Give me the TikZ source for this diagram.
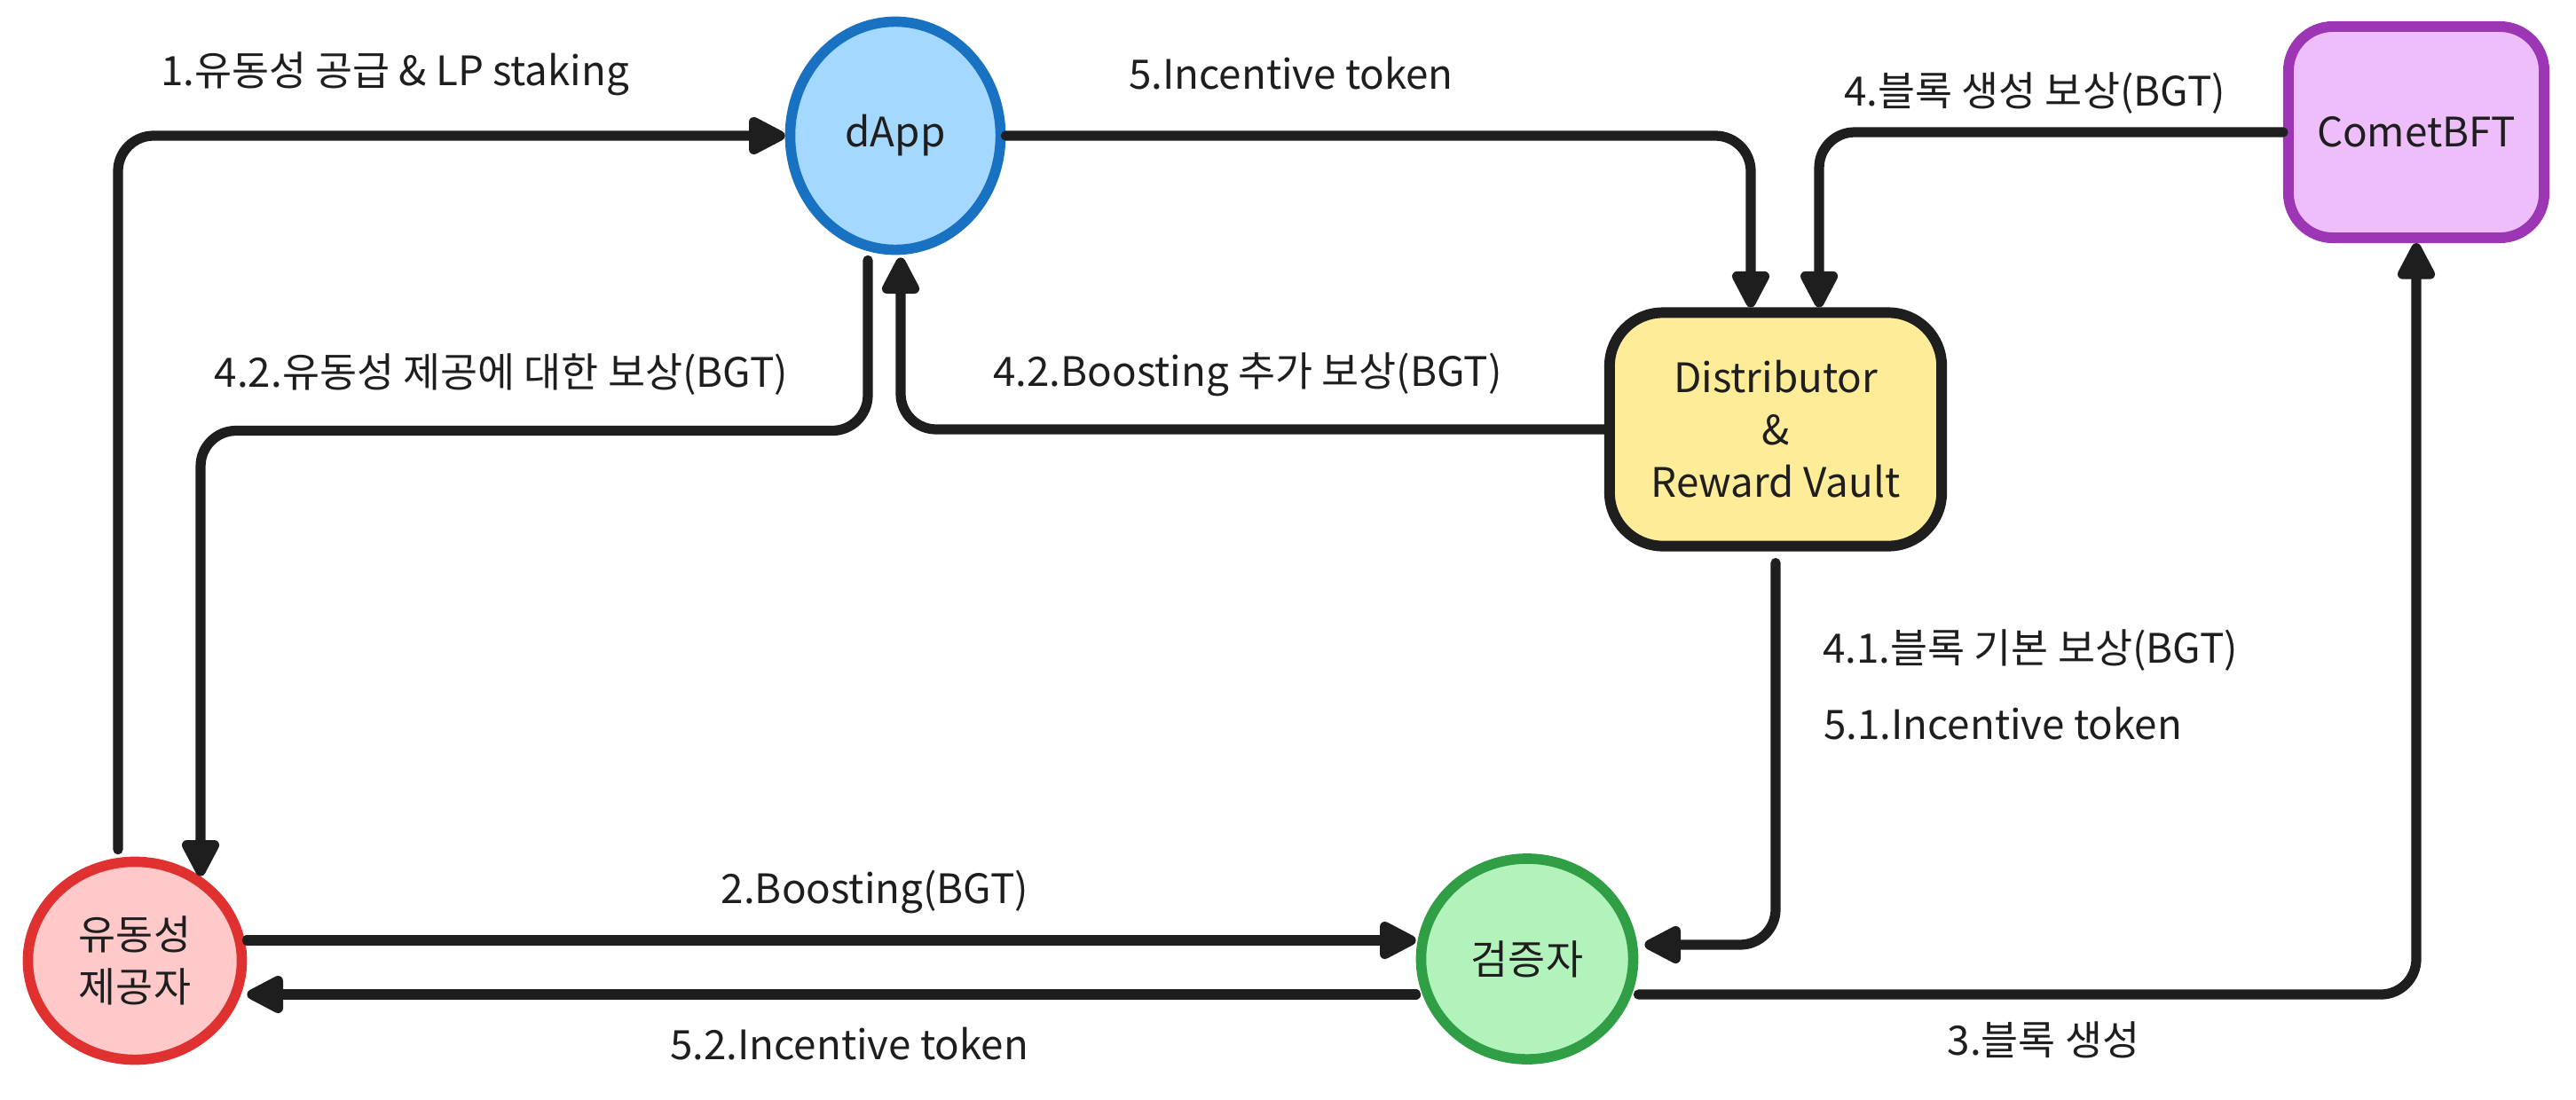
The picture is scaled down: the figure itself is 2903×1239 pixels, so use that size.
\documentclass[tikz,border=0pt]{standalone}
\usepackage{fontspec}
\setmainfont{Noto Sans CJK KR}
\usepackage{tikz}
\usetikzlibrary{arrows.meta,shapes.geometric}
\usepackage{xcolor}

\definecolor{ink}{HTML}{1E1E1E}
\definecolor{lpfill}{HTML}{FFC9C9}
\definecolor{lpline}{HTML}{E03131}
\definecolor{dappfill}{HTML}{A5D8FF}
\definecolor{dappline}{HTML}{1971C2}
\definecolor{valfill}{HTML}{B2F2BB}
\definecolor{valline}{HTML}{2F9E44}
\definecolor{distfill}{HTML}{FFEC99}
\definecolor{cometfill}{HTML}{EEBEFA}
\definecolor{cometline}{HTML}{9C36B5}

\begin{document}
\begin{tikzpicture}[x=0.01cm, y=-0.01cm,
    every node/.style={font=\fontsize{13}{16.8}\selectfont, text=ink},
    actor/.style={ellipse, line width=3.3pt, inner sep=0pt, align=center},
    block/.style={rectangle, rounded corners=6mm, line width=3.4pt, align=center},
    flow/.style={ink, line width=3.2pt, line cap=round, rounded corners=4mm,
                 -{Triangle[length=4.8mm, width=4.6mm, round]}},
    lbl/.style={inner sep=0pt}]
    \useasboundingbox (0,0) rectangle (2903,1239);

    \node [actor, draw=dappline, fill=dappfill, minimum width=2.37cm, minimum height=2.57cm] (dapp) at (1009,153) {dApp};
    \node [actor, draw=lpline, fill=lpfill, minimum width=2.41cm, minimum height=2.23cm] (lp) at (152,1083) {유동성\\제공자};
    \node [actor, draw=valline, fill=valfill, minimum width=2.39cm, minimum height=2.26cm] (val) at (1721,1081) {검증자};
    \node [block, draw=ink, fill=distfill, minimum width=3.74cm, minimum height=2.63cm] (dist) at (2001,484) {Distributor\\\&\\Reward Vault};
    \node [block, draw=cometline, fill=cometfill, minimum width=2.88cm, minimum height=2.38cm, rounded corners=5mm] (comet) at (2723,149) {CometBFT};

    \coordinate (lpin) at ([xshift=7.4mm, yshift=-2.2mm]lp.north);
    \coordinate (boostout) at ([yshift=2.3mm]lp.east);
    \coordinate (tokenout) at ([yshift=-4mm]val.west);

    \draw [flow] ([xshift=-1.9mm, yshift=0.8mm]lp.north) |- (dapp.west);
    \draw [flow] ([xshift=-3.1mm, yshift=-0.6mm]dapp.south) -- ++(0,-1.92cm) -| (lpin);
    \draw [flow] (dist.west) -| ([xshift=0.6mm, yshift=-0.3mm]dapp.south);
    \draw [flow] (dapp.east) -| ([xshift=-2.8mm]dist.north);
    \draw [flow] (comet.west) -| ([xshift=4.9mm]dist.north);
    \draw [flow] ([yshift=-1.3mm]dist.south) |- ([xshift=0.7mm, yshift=1.6mm]val.east);
    \draw [flow] (boostout) -- (boostout -| val.west);
    \draw [flow] (tokenout) -- (tokenout -| lp.east);
    \draw [flow] ([yshift=-4mm]val.east) -| (comet.south);

    \node [lbl] (l1) at (445,83) {1.유동성 공급 \& LP staking};
    \node [lbl] (l5) at (1455,83) {5.Incentive token};
    \node [lbl] (l4) at (2293,105) {4.블록 생성 보상(BGT)};
    \node [lbl] (l42a) at (565,422) {4.2.유동성 제공에 대한 보상(BGT)};
    \node [lbl] (l42b) at (1406,422) {4.2.Boosting 추가 보상(BGT)};
    \node [lbl] (l41) at (2288,733) {4.1.블록 기본 보상(BGT)};
    \node [lbl] (l51) at (2257,816) {5.1.Incentive token};
    \node [lbl] (l2) at (986,1005) {2.Boosting(BGT)};
    \node [lbl] (l52) at (957,1177) {5.2.Incentive token};
    \node [lbl] (l3) at (2303,1172) {3.블록 생성};
\end{tikzpicture}
\end{document}
